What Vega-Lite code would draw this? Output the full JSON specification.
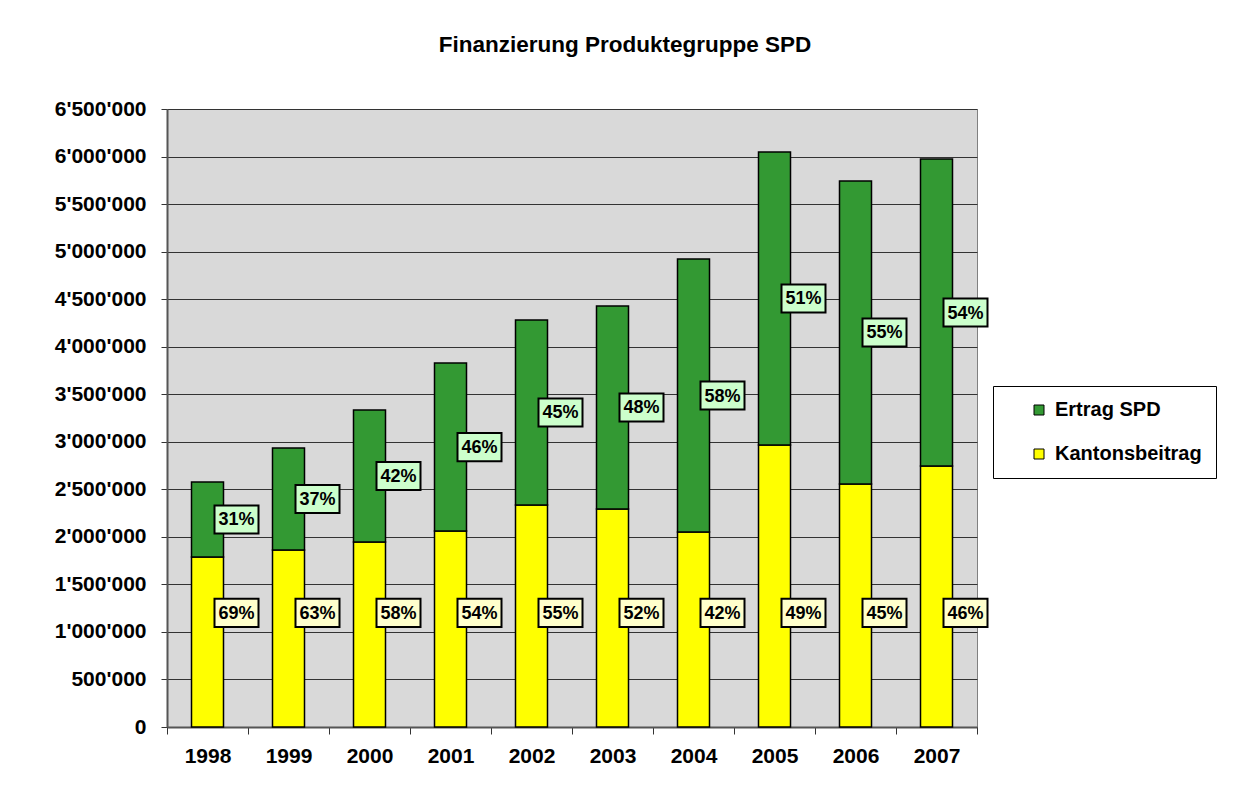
{
  "$schema": "https://vega.github.io/schema/vega-lite/v6.json",
  "width": 810,
  "height": 618,
  "autosize": "none",
  "padding": {"left": 167, "top": 109, "right": 272, "bottom": 72},
  "background": "white",
  "config": {
    "font": "Liberation Sans",
    "view": {"fill": "#D9D9D9", "stroke": "#808080", "strokeWidth": 1}
  },
  "title": {
    "text": "Finanzierung Produktegruppe SPD",
    "font": "Liberation Sans",
    "fontSize": 22.5,
    "fontWeight": "bold",
    "color": "#000000",
    "anchor": "middle",
    "dx": 53,
    "offset": 42
  },
  "data": {
    "values": [
      {"year": "1998", "series": "Kantonsbeitrag", "value": 1788000, "pct": "69%"},
      {"year": "1998", "series": "Ertrag SPD", "value": 789000, "pct": "31%"},
      {"year": "1999", "series": "Kantonsbeitrag", "value": 1862000, "pct": "63%"},
      {"year": "1999", "series": "Ertrag SPD", "value": 1072000, "pct": "37%"},
      {"year": "2000", "series": "Kantonsbeitrag", "value": 1946000, "pct": "58%"},
      {"year": "2000", "series": "Ertrag SPD", "value": 1388000, "pct": "42%"},
      {"year": "2001", "series": "Kantonsbeitrag", "value": 2061000, "pct": "54%"},
      {"year": "2001", "series": "Ertrag SPD", "value": 1767000, "pct": "46%"},
      {"year": "2002", "series": "Kantonsbeitrag", "value": 2335000, "pct": "55%"},
      {"year": "2002", "series": "Ertrag SPD", "value": 1946000, "pct": "45%"},
      {"year": "2003", "series": "Kantonsbeitrag", "value": 2293000, "pct": "52%"},
      {"year": "2003", "series": "Ertrag SPD", "value": 2135000, "pct": "48%"},
      {"year": "2004", "series": "Kantonsbeitrag", "value": 2051000, "pct": "42%"},
      {"year": "2004", "series": "Ertrag SPD", "value": 2871000, "pct": "58%"},
      {"year": "2005", "series": "Kantonsbeitrag", "value": 2966000, "pct": "49%"},
      {"year": "2005", "series": "Ertrag SPD", "value": 3082000, "pct": "51%"},
      {"year": "2006", "series": "Kantonsbeitrag", "value": 2556000, "pct": "45%"},
      {"year": "2006", "series": "Ertrag SPD", "value": 3187000, "pct": "55%"},
      {"year": "2007", "series": "Kantonsbeitrag", "value": 2745000, "pct": "46%"},
      {"year": "2007", "series": "Ertrag SPD", "value": 3229000, "pct": "54%"}
    ]
  },
  "encoding": {
    "x": {
      "field": "year",
      "type": "ordinal",
      "title": null,
      "scale": {"paddingInner": 0, "paddingOuter": 0},
      "axis": {
        "labelAngle": 0,
        "labelFont": "Liberation Sans",
        "labelFontSize": 21,
        "labelFontWeight": "bold",
        "labelColor": "#000000",
        "labelPadding": 11,
        "tickBand": "extent",
        "tickSize": 7,
        "tickColor": "#333333",
        "domainColor": "#555555",
        "domainWidth": 2,
        "grid": false
      }
    }
  },
  "layer": [
    {
      "mark": {"type": "bar", "size": 32, "stroke": "#000000", "strokeWidth": 1.5},
      "encoding": {
        "y": {
          "field": "value",
          "type": "quantitative",
          "stack": "zero",
          "title": null,
          "scale": {"domain": [0, 6500000], "nice": false},
          "axis": {
            "values": [0, 500000, 1000000, 1500000, 2000000, 2500000, 3000000, 3500000, 4000000, 4500000, 5000000, 5500000, 6000000, 6500000],
            "labelExpr": "replace(replace(format(datum.value, ','), ',', \"'\"), ',', \"'\")",
            "labelFont": "Liberation Sans",
            "labelFontSize": 21,
            "labelFontWeight": "bold",
            "labelColor": "#000000",
            "labelPadding": 15,
            "tickSize": 6,
            "tickColor": "#333333",
            "domainColor": "#555555",
            "domainWidth": 2,
            "grid": true,
            "gridColor": "#333333",
            "gridWidth": 1
          }
        },
        "color": {
          "field": "series",
          "type": "nominal",
          "scale": {"domain": ["Ertrag SPD", "Kantonsbeitrag"], "range": ["#339933", "#FFFF00"]},
          "legend": {
            "title": null,
            "orient": "none",
            "legendX": 826,
            "legendY": 277,
            "direction": "vertical",
            "fillColor": "#FFFFFF",
            "strokeColor": "#000000",
            "padding": 14,
            "symbolOffset": 22,
            "symbolType": "square",
            "symbolSize": 100,
            "symbolStrokeColor": "#000000",
            "symbolStrokeWidth": 1,
            "labelFont": "Liberation Sans",
            "labelFontSize": 20,
            "labelFontWeight": "bold",
            "labelColor": "#000000",
            "labelOffset": 6,
            "rowPadding": 24,
            "labelExpr": "datum.label + '\u00a0\u00a0\u00a0\u00a0'"
          }
        },
        "order": {"field": "series", "sort": "descending"}
      }
    },
    {
      "transform": [
        {"stack": "value", "groupby": ["year"], "as": ["v0", "v1"], "sort": [{"field": "series", "order": "descending"}]},
        {"filter": "datum.series == 'Ertrag SPD'"},
        {"fold": ["v0", "v1"], "as": ["k", "pos"]},
        {"aggregate": [{"op": "mean", "field": "pos", "as": "mid"}], "groupby": ["year", "pct"]}
      ],
      "layer": [
        {
          "mark": {"type": "point", "shape": "M-1,-0.64H1V0.64H-1Z", "size": 1936, "filled": true, "fill": "#CCFFCC", "stroke": "#000000", "strokeWidth": 2, "opacity": 1, "xOffset": 29},
          "encoding": {"y": {"field": "mid", "type": "quantitative"}}
        },
        {
          "mark": {"type": "text", "font": "Liberation Sans", "fontSize": 18, "fontWeight": "bold", "color": "#000000", "align": "center", "baseline": "middle", "xOffset": 29, "dy": 1},
          "encoding": {"y": {"field": "mid", "type": "quantitative"}, "text": {"field": "pct"}}
        }
      ]
    },
    {
      "transform": [{"filter": "datum.series == 'Kantonsbeitrag'"}],
      "layer": [
        {
          "mark": {"type": "point", "shape": "M-1,-0.64H1V0.64H-1Z", "size": 1936, "filled": true, "fill": "#FFFFCC", "stroke": "#000000", "strokeWidth": 2, "opacity": 1, "xOffset": 29},
          "encoding": {"y": {"datum": 1200000, "type": "quantitative"}}
        },
        {
          "mark": {"type": "text", "font": "Liberation Sans", "fontSize": 18, "fontWeight": "bold", "color": "#000000", "align": "center", "baseline": "middle", "xOffset": 29, "dy": 1},
          "encoding": {"y": {"datum": 1200000, "type": "quantitative"}, "text": {"field": "pct"}}
        }
      ]
    }
  ]
}
